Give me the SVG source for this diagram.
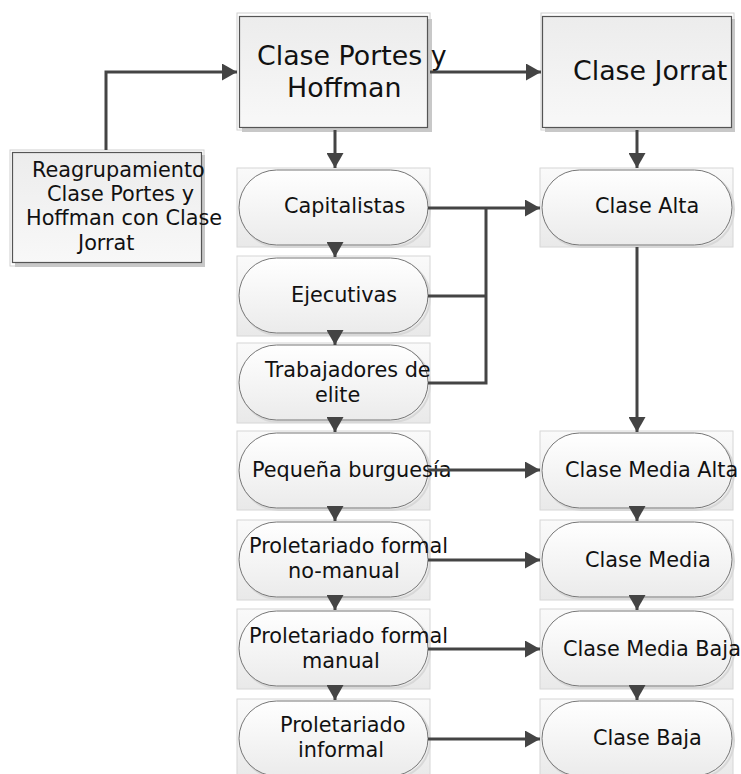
<svg xmlns="http://www.w3.org/2000/svg" width="741" height="774" viewBox="0 0 741 774">
<defs>
<linearGradient id="gBox" x1="0" y1="0" x2="0" y2="1"><stop offset="0" stop-color="#ececec"/><stop offset="1" stop-color="#f8f8f8"/></linearGradient>
<linearGradient id="gBg" x1="0" y1="0" x2="0" y2="1"><stop offset="0" stop-color="#fafafa"/><stop offset="1" stop-color="#e9e9e9"/></linearGradient>
<linearGradient id="gPill" x1="0" y1="0" x2="0" y2="1"><stop offset="0" stop-color="#ffffff"/><stop offset="1" stop-color="#ebebeb"/></linearGradient>
<marker id="ah" markerUnits="userSpaceOnUse" markerWidth="16" markerHeight="17" refX="15" refY="8.5" orient="auto"><path d="M0,0 L15,8.5 L0,17 z" fill="#444"/></marker>
<style>
.outer{fill:#fff;stroke:#d0d0d0;stroke-width:1}
.box{fill:url(#gBox);stroke:#555;stroke-width:1.2}
.shadow{fill:#c8c8c8}
.bg{fill:url(#gBg);stroke:#d6d6d6;stroke-width:1}
.pill{fill:url(#gPill);stroke:#777;stroke-width:1}
.pshadow{fill:none;stroke:#d8d8d8;stroke-width:2}
text{font-family:"DejaVu Sans",Verdana,sans-serif;fill:#111}
.big{font-size:26.8px}
.mid{font-size:20.8px}
.con{fill:none;stroke:#444;stroke-width:3}
</style>
</defs>

<g id="reagrupamiento">
<rect class="outer" x="10" y="150" width="194" height="116"/>
<rect class="shadow" x="15" y="155" width="190" height="112"/>
<rect class="box" x="12.5" y="152.5" width="189" height="110"/>
<text class="mid" x="32" y="177">Reagrupamiento</text>
<text class="mid" x="47" y="201">Clase Portes y</text>
<text class="mid" x="26" y="225">Hoffman con Clase</text>
<text class="mid" x="78" y="250">Jorrat</text>
</g>

<g id="portes">
<rect class="outer" x="237" y="13" width="193" height="117"/>
<rect class="shadow" x="242" y="19" width="190" height="113"/>
<rect class="box" x="239.5" y="16.5" width="188" height="111"/>
<text class="big" x="257" y="65">Clase Portes y</text>
<text class="big" x="287" y="97">Hoffman</text>
</g>

<g id="jorrat">
<rect class="outer" x="541" y="13" width="193" height="117"/>
<rect class="shadow" x="545" y="19" width="190" height="113"/>
<rect class="box" x="542.5" y="16.5" width="189" height="111"/>
<text class="big" x="573" y="80">Clase Jorrat</text>
</g>

<g id="capitalistas">
<rect class="bg" x="237" y="168" width="193" height="79"/>
<rect class="pshadow" x="241" y="172" width="189" height="75" rx="37.5"/>
<rect class="pill" x="239" y="170" width="189" height="75" rx="37.5"/>
<text class="mid" x="284" y="213">Capitalistas</text>
</g>

<g id="ejecutivas">
<rect class="bg" x="237" y="256" width="193" height="80"/>
<rect class="pshadow" x="241" y="260" width="189" height="75" rx="37.5"/>
<rect class="pill" x="239" y="258" width="189" height="75" rx="37.5"/>
<text class="mid" x="291" y="302">Ejecutivas</text>
</g>

<g id="trabajadores">
<rect class="bg" x="237" y="343" width="193" height="80"/>
<rect class="pshadow" x="241" y="347" width="189" height="75" rx="37.5"/>
<rect class="pill" x="239" y="345" width="189" height="75" rx="37.5"/>
<text class="mid" x="265" y="377">Trabajadores de</text>
<text class="mid" x="315" y="402">elite</text>
</g>

<g id="pequena">
<rect class="bg" x="237" y="431" width="193" height="79"/>
<rect class="pshadow" x="241" y="435" width="189" height="75" rx="37.5"/>
<rect class="pill" x="239" y="433" width="189" height="75" rx="37.5"/>
<text class="mid" x="252" y="477">Pequeña burguesía</text>
</g>

<g id="no-manual">
<rect class="bg" x="237" y="520" width="193" height="80"/>
<rect class="pshadow" x="241" y="524" width="189" height="75" rx="37.5"/>
<rect class="pill" x="239" y="522" width="189" height="75" rx="37.5"/>
<text class="mid" x="249" y="553">Proletariado formal</text>
<text class="mid" x="288" y="578">no-manual</text>
</g>

<g id="manual">
<rect class="bg" x="237" y="609" width="193" height="80"/>
<rect class="pshadow" x="241" y="613" width="189" height="75" rx="37.5"/>
<rect class="pill" x="239" y="611" width="189" height="75" rx="37.5"/>
<text class="mid" x="249" y="643">Proletariado formal</text>
<text class="mid" x="302" y="668">manual</text>
</g>

<g id="informal">
<rect class="bg" x="237" y="699" width="193" height="80"/>
<rect class="pshadow" x="241" y="703" width="189" height="75" rx="37.5"/>
<rect class="pill" x="239" y="701" width="189" height="75" rx="37.5"/>
<text class="mid" x="280" y="732">Proletariado</text>
<text class="mid" x="298" y="757">informal</text>
</g>

<g id="alta">
<rect class="bg" x="540" y="168" width="193" height="79"/>
<rect class="pshadow" x="544" y="172" width="190" height="75" rx="37.5"/>
<rect class="pill" x="542" y="170" width="190" height="75" rx="37.5"/>
<text class="mid" x="595" y="213">Clase Alta</text>
</g>

<g id="media-alta">
<rect class="bg" x="540" y="431" width="193" height="79"/>
<rect class="pshadow" x="544" y="435" width="190" height="75" rx="37.5"/>
<rect class="pill" x="542" y="433" width="190" height="75" rx="37.5"/>
<text class="mid" x="565" y="477">Clase Media Alta</text>
</g>

<g id="media">
<rect class="bg" x="540" y="520" width="193" height="80"/>
<rect class="pshadow" x="544" y="524" width="190" height="75" rx="37.5"/>
<rect class="pill" x="542" y="522" width="190" height="75" rx="37.5"/>
<text class="mid" x="585" y="567">Clase Media</text>
</g>

<g id="media-baja">
<rect class="bg" x="540" y="609" width="193" height="80"/>
<rect class="pshadow" x="544" y="613" width="190" height="75" rx="37.5"/>
<rect class="pill" x="542" y="611" width="190" height="75" rx="37.5"/>
<text class="mid" x="563" y="656">Clase Media Baja</text>
</g>

<g id="baja">
<rect class="bg" x="540" y="699" width="193" height="80"/>
<rect class="pshadow" x="544" y="703" width="190" height="75" rx="37.5"/>
<rect class="pill" x="542" y="701" width="190" height="75" rx="37.5"/>
<text class="mid" x="593" y="745">Clase Baja</text>
</g>

<g id="connectors">
<path class="con" d="M106,150 V72 H237" marker-end="url(#ah)"/>
<path class="con" d="M430,72 H541" marker-end="url(#ah)"/>
<path class="con" d="M335,130 V168" marker-end="url(#ah)"/>
<path class="con" d="M637,130 V168" marker-end="url(#ah)"/>
<path class="con" d="M428,208 H540" marker-end="url(#ah)"/>
<path class="con" d="M428,296 H486"/>
<path class="con" d="M428,383 H486 V208"/>
<path class="con" d="M637,247 V432" marker-end="url(#ah)"/>
<path class="con" d="M335,245 V257" marker-end="url(#ah)"/>
<path class="con" d="M335,333 V345" marker-end="url(#ah)"/>
<path class="con" d="M335,420 V432" marker-end="url(#ah)"/>
<path class="con" d="M335,508 V521" marker-end="url(#ah)"/>
<path class="con" d="M335,597 V610" marker-end="url(#ah)"/>
<path class="con" d="M335,686 V700" marker-end="url(#ah)"/>
<path class="con" d="M637,508 V521" marker-end="url(#ah)"/>
<path class="con" d="M637,597 V610" marker-end="url(#ah)"/>
<path class="con" d="M637,686 V700" marker-end="url(#ah)"/>
<path class="con" d="M428,470 H540" marker-end="url(#ah)"/>
<path class="con" d="M428,560 H540" marker-end="url(#ah)"/>
<path class="con" d="M428,649 H540" marker-end="url(#ah)"/>
<path class="con" d="M428,739 H540" marker-end="url(#ah)"/>
</g>
</svg>
